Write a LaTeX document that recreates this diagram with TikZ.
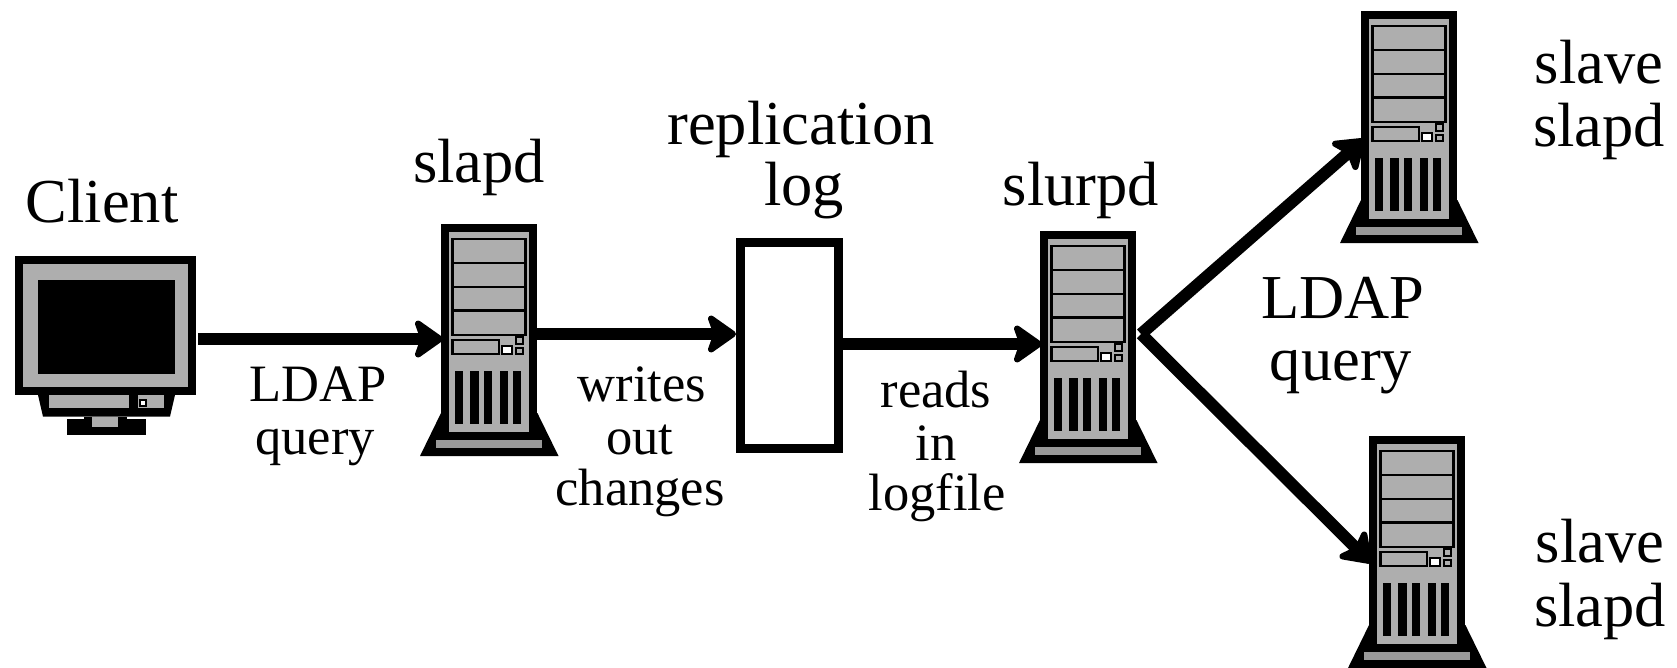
\documentclass[tikz,border=0pt]{standalone}
\usepackage{fontspec}
\setmainfont{Liberation Serif}
\usetikzlibrary{arrows.meta}
\definecolor{cgray}{HTML}{AEAEAE}
\definecolor{dgray}{HTML}{999999}
\tikzset{
  x=1pt,y=-1pt,
  black part/.style={fill=black,draw=none},
  gray part/.style={fill=cgray,draw=none},
  bay/.style={fill=cgray,draw=black,line width=2.4pt},
  arrowline/.style={line width=12pt,-{Stealth[length=33pt,width=46pt,inset=8pt,round]}},
  big/.style={font=\fontsize{62.5}{62.5}\selectfont,anchor=base,inner sep=0pt},
  small/.style={font=\fontsize{52.5}{52.5}\selectfont,anchor=base,inner sep=0pt},
  logbox/.style={draw=black,fill=white,line width=9pt,minimum width=98pt,minimum height=206pt,inner sep=0pt},
  server/.pic={
    \fill[black part] (0,0) rectangle (96.4,197);
    \fill[black part] (0,189) -- (-21,232) -- (117.5,232) -- (96.4,189) -- cycle;
    \fill[gray part] (8,7.7) rectangle (88,208);
    \fill[fill=dgray] (-5.5,216) rectangle (100.7,224.3);
    \foreach \a/\b in {15/38.7,38.7/62.7,62.7/86.6,86.6/111}
      \draw[bay] (11.6,\a) rectangle (84.4,\b);
    \draw[bay] (11.6,116) rectangle (57.8,130);
    \draw[fill=white,draw=black,line width=2.2pt] (60.8,122) rectangle (71,130);
    \draw[bay,line width=1.8pt] (75,113.3) rectangle (82.2,120);
    \draw[bay,line width=1.8pt] (75,124.3) rectangle (82.2,130);
    \foreach \a/\b in {13.5/21.5,29/37.5,42.6/51,59/67,72/80}
      \fill[black part] (\a,146.7) rectangle (\b,200);
  },
  monitor/.pic={
    \fill[black part] (14.5,256) rectangle (195.6,395);
    \fill[gray part] (22.5,264) rectangle (188,387);
    \fill[black part] (38,280) rectangle (174.5,374);
    \fill[black part] (38,395) -- (43,416.6) -- (170,416.6) -- (175,395) -- cycle;
    \fill[gray part] (49,395) rectangle (129,408);
    \fill[gray part] (137.5,395) rectangle (163.5,408);
    \draw[fill=white,draw=black,line width=2pt] (140,400) rectangle (145.5,406);
    \fill[black part] (83.6,416.6) rectangle (126.5,419);
    \fill[black part] (67.3,419) rectangle (145.5,435);
    \fill[gray part] (91.6,416.6) rectangle (118.2,427);
  }
}
\begin{document}
\begin{tikzpicture}
\path[use as bounding box] (0,0) rectangle (1677,667);
\clip (0,0) rectangle (1677,667);
\fill[white] (0,0) rectangle (1677,667);
\pic (clientpic) at (0,0) {monitor};
\pic (slapdpic) at (441,224) {server};
\pic (slurpdpic) at (1040,231) {server};
\pic (slaveApic) at (1361,11) {server};
\pic (slaveBpic) at (1369,436) {server};
\node[logbox] (log) at (789.5,345.5) {};
\coordinate (clientout) at (198,339);
\coordinate (slapdin) at (443,339);
\coordinate (slapdout) at (537,334);
\coordinate (slurpdin) at (1042,344);
\coordinate (slurpdout) at (1141,334);
\coordinate (slaveAin) at (1364,139);
\coordinate (slaveBin) at (1371,563);
\draw[arrowline] (clientout) -- (slapdin);
\draw[arrowline] (slapdout) -- (slapdout -| log.west);
\draw[arrowline] (slurpdin -| log.east) -- (slurpdin);
\draw[arrowline] (slurpdout) -- (slaveAin);
\draw[arrowline] (slurpdout) -- (slaveBin);
\node[big] (tclient) at (102,222) {Client};
\node[big] (tslapd) at (479,182) {slapd};
\node[big] (trepl) at (801,144) {replication};
\node[big] (tlog) at (804,205) {log};
\node[big] (tslurpd) at (1081,205) {slurpd};
\node[big] (tslaveA) at (1599,83) {slave};
\node[big] (tslapdA) at (1599,146) {slapd};
\node[big] (tslaveB) at (1600,562) {slave};
\node[big] (tslapdB) at (1600,626) {slapd};
\node[big] (tldapB) at (1343,318) {LDAP};
\node[big] (tqueryB) at (1341,380) {query};
\node[small] (tldapA) at (318,401) {LDAP};
\node[small] (tqueryA) at (315,454) {query};
\node[small] (twrites) at (642,401) {writes};
\node[small] (tout) at (640,454) {out};
\node[small] (tchanges) at (640,505) {changes};
\node[small] (treads) at (936,407) {reads};
\node[small] (tin) at (936,460) {in};
\node[small] (tlogfile) at (937,510) {logfile};
\end{tikzpicture}
\end{document}
